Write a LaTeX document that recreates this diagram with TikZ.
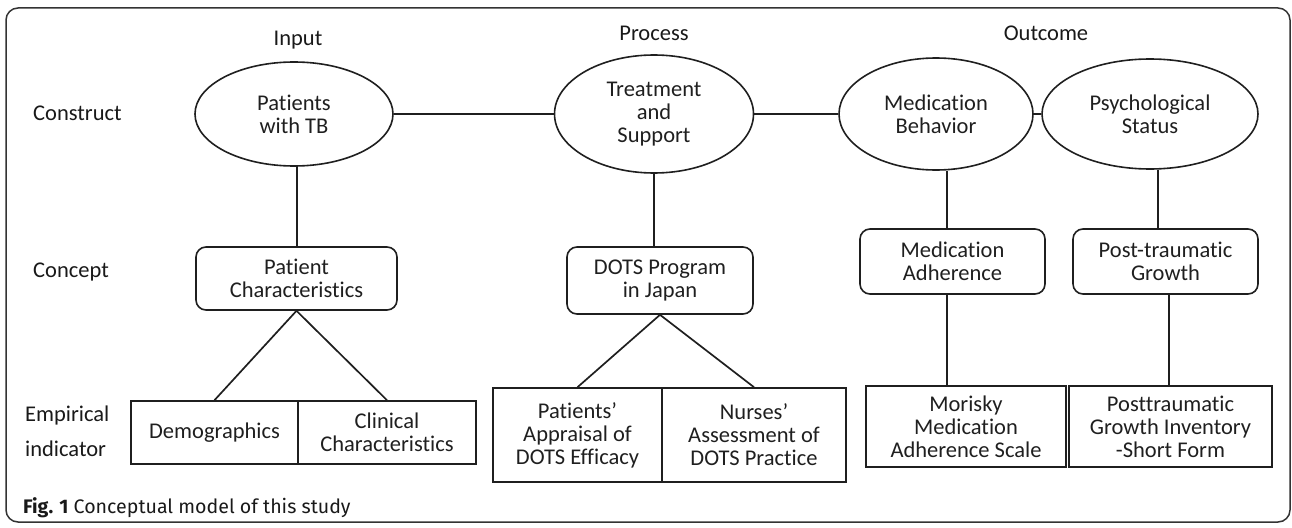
\documentclass[tikz,border=0pt]{standalone}
\usepackage{fontspec}
\setmainfont[Ligatures={NoCommon,NoRare,NoContextual},RawFeature={-liga;-clig;-dlig;-calt}]{Carlito}
\newfontfamily\capfont{Fira Sans}
\usetikzlibrary{shapes.geometric,calc}
\newcommand{\tI}{t\kern0pt i}
\begin{document}
\begin{tikzpicture}[x=1pt,y=-1pt,
  every node/.style={font=\fontsize{22.5}{23}\selectfont, align=center, inner sep=0pt, text=black!90},
  link/.style={line width=1.7pt, black!88},
  oval/.style={ellipse, draw, line width=1.6pt, black!88},
  rbox/.style={rectangle, draw, rounded corners=10pt, line width=1.6pt, black!88},
  sbox/.style={rectangle, draw, line width=1.6pt, black!88},
  lab/.style={anchor=west, align=left}]
\useasboundingbox (0,0) rectangle (1292,527);
\draw[line width=1.5pt, black!80, rounded corners=12pt] (6,8) rectangle (1290,522);
% header labels
\node (lin) at (298,40) {Input};
\node (lpr) at (654,33) {Process};
\node (lout) at (1046,33) {Outcome};
% row labels
\node[lab] (lcons) at (33,113) {Construct};
\node[lab] (lconc) at (33,272) {Concept};
\node[lab, font=\fontsize{22.5}{35}\selectfont] (lemp) at (25,431) {Empirical\\indicator};
% constructs
\node[oval, minimum width=198pt, minimum height=104pt] (e1) at (294,114) {Pa\tI ents\\with TB};
\node[oval, minimum width=199pt, minimum height=118pt] (e2) at (654,114) {Treatment\\and\\Support};
\node[oval, minimum width=194pt, minimum height=112pt] (e3) at (936,114) {Medica\tI on\\Behavior};
\node[oval, minimum width=216pt, minimum height=110pt] (e4) at (1150,114) {Psychological\\Status};
% concepts
\node[rbox, minimum width=201pt, minimum height=63pt] (c1) at (296.5,278.5) {Pa\tI ent\\Characteris\tI cs};
\node[rbox, minimum width=186pt, minimum height=67pt] (c2) at (660,280.5) {DOTS Program\\in Japan};
\node[rbox, minimum width=185pt, minimum height=65pt] (c3) at (952.5,261.5) {Medica\tI on\\Adherence};
\node[rbox, minimum width=185pt, minimum height=65pt] (c4) at (1165.5,261.5) {Post-trauma\tI c\\Growth};
% empirical indicators
\node[sbox, minimum width=167pt, minimum height=63pt] (d1) at (214.5,432.5) {Demographics};
\node[sbox, minimum width=178pt, minimum height=63pt] (d2) at (387,432.5) {Clinical\\Characteris\tI cs};
\node[sbox, minimum width=169pt, minimum height=94pt] (d3) at (577.5,435) {Pa\tI ents’\\Appraisal of\\DOTS Efficacy};
\node[sbox, minimum width=184pt, minimum height=94pt] (d4) at (754,435) {Nurses’\\Assessment of\\DOTS Prac\tI ce};
\node[sbox, minimum width=200pt, minimum height=81pt] (d5) at (966,426.5) {Morisky\\Medica\tI on\\Adherence Scale};
\node[sbox, minimum width=203pt, minimum height=81pt] (d6) at (1170.5,426.5) {Posttrauma\tI c\\Growth Inventory\\-Short Form};
% caption
\node[anchor=west, font=\capfont\fontsize{19.6}{21}\selectfont] (cap) at (23,508) {\textbf{Fig. 1} Conceptual model of this study};
% connectors
\coordinate (m1) at (297,0);
\coordinate (m3) at (947,0);
\coordinate (m4) at (1158,0);
\coordinate (m6) at (1169,0);
\draw[link] (e1.east) -- (e2.west);
\draw[link] (e2.east) -- (e3.west);
\draw[link] (e3.east) -- (e4.west);
\draw[link] (e1.south -| m1) -- (c1.north -| m1);
\draw[link] (e2.south) -- (e2.south |- c2.north);
\draw[link] (e3.south -| m3) -- (c3.north -| m3);
\draw[link] (e4.south -| m4) -- (c4.north -| m4);
\draw[link] (c1.south) -- (d1.north);
\draw[link] (c1.south) -- (d2.north);
\draw[link] (c2.south) -- (d3.north);
\draw[link] (c2.south) -- (d4.north);
\draw[link] (c3.south -| m3) -- (d5.north -| m3);
\draw[link] (c4.south -| m6) -- (d6.north -| m6);
\end{tikzpicture}
\end{document}
